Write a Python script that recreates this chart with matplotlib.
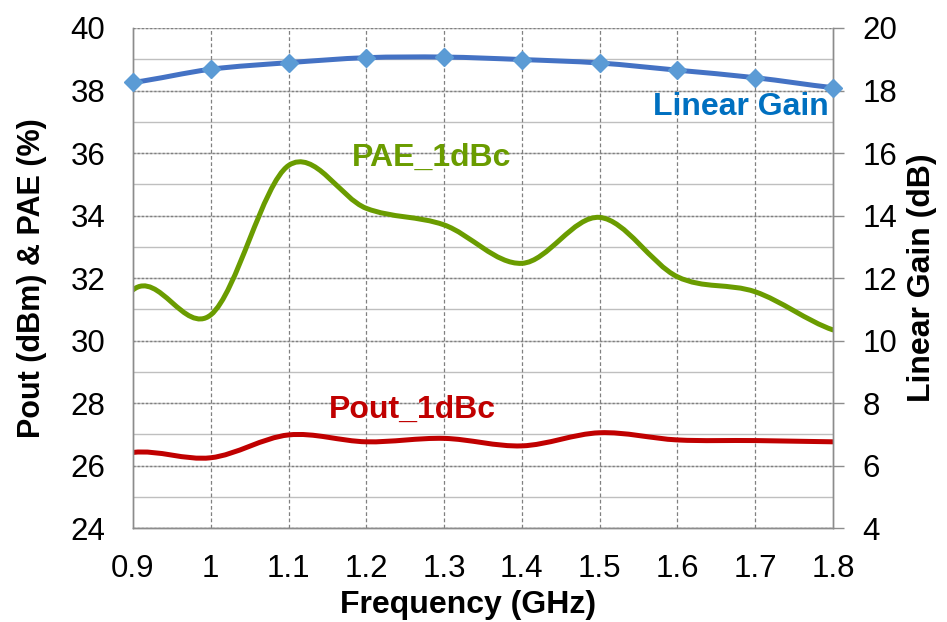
import numpy as np
import matplotlib
matplotlib.use("Agg")
import matplotlib.pyplot as plt
from matplotlib.path import Path
from matplotlib.patches import PathPatch

plt.rcParams['font.family'] = ['Liberation Sans', 'DejaVu Sans']

# data
freq = [0.9, 1.0, 1.1, 1.2, 1.3, 1.4, 1.5, 1.6, 1.7, 1.8]
pae = [31.62, 30.82, 35.60, 34.23, 33.70, 32.47, 33.94, 32.04, 31.56, 30.34]
pout = [26.42, 26.25, 26.98, 26.76, 26.87, 26.63, 27.05, 26.82, 26.80, 26.76]
gain = [18.26, 18.68, 18.89, 19.05, 19.07, 18.99, 18.88, 18.65, 18.41, 18.09]

xticks = [0.9, 1.0, 1.1, 1.2, 1.3, 1.4, 1.5, 1.6, 1.7, 1.8]
xticklabels = ['0.9', '1', '1.1', '1.2', '1.3', '1.4', '1.5', '1.6', '1.7', '1.8']


def smooth_patch(x, y, color, lw):
    # Excel style smoothed line: cubic bezier through the points
    pts = np.column_stack([x, y]).astype(float)
    tang = np.empty_like(pts)
    tang[1:-1] = (pts[2:] - pts[:-2]) / 2
    tang[0] = tang[1]
    tang[-1] = tang[-2]
    verts = [pts[0]]
    codes = [Path.MOVETO]
    for i in range(len(pts) - 1):
        verts += [pts[i] + tang[i] / 3, pts[i + 1] - tang[i + 1] / 3, pts[i + 1]]
        codes += [Path.CURVE4] * 3
    return PathPatch(Path(verts, codes), facecolor='none', edgecolor=color,
                     lw=lw, capstyle='round', joinstyle='round')


fig = plt.figure(figsize=(9.47, 6.22), dpi=100)
ax = fig.add_axes([0.1404, 0.151, 0.7392, 0.804])
ax2 = ax.twinx()

ax.set_xlim(0.9, 1.8)
ax.set_ylim(24, 40)
ax2.set_ylim(4, 20)

# grid
for v in np.arange(25, 40, 2):
    ax.axhline(v, color='#BFBFBF', lw=1.0, zorder=0)
for v in np.arange(24, 41, 2):
    ax.axhline(v, color='#BFBFBF', lw=1.0, zorder=0)
    ax.axhline(v, color='#7F7F7F', lw=1.0, ls=(0, (1.5, 1.5)), zorder=0)
for xv in xticks[1:-1]:
    ax.axvline(xv, color='#808080', lw=0.9, ls=(0, (3, 2)), zorder=0)

ax.add_patch(smooth_patch(freq, pae, '#6A9C00', 3.6))
ax.add_patch(smooth_patch(freq, pout, '#C00000', 3.6))
ax2.add_patch(smooth_patch(freq, gain, '#4472C4', 3.6))
ax2.plot(freq, gain, ls='none', marker='D', markersize=9.5, color='#5B9BD5',
         clip_on=False, zorder=5)

ax.set_xticks(xticks)
ax.set_xticklabels(xticklabels)
ax.set_yticks(np.arange(24, 41, 2))
ax2.set_yticks(np.arange(4, 21, 2))

for a in (ax, ax2):
    for s in a.spines.values():
        s.set_color('#8C8C8C')
        s.set_linewidth(1.0)
    a.spines['top'].set_visible(False)
ax.tick_params(axis='x', length=0, labelsize=22.5, pad=19)
ax.tick_params(axis='y', length=0, labelsize=22.5, pad=20)
ax2.tick_params(axis='y', length=8, width=1.0, color='#8C8C8C', labelsize=22.5, pad=13)

ax.set_xlabel('Frequency (GHz)', fontsize=23, fontweight='bold', labelpad=4)
ax.xaxis.label.set_x(0.479)
ax.set_ylabel('Pout (dBm) & PAE (%)', fontsize=22, fontweight='bold', labelpad=17)
ax2.set_ylabel('Linear Gain (dB)', fontsize=23, fontweight='bold', labelpad=7)

ax.text(1.795, 37.47, 'Linear Gain', color='#0070C0', fontsize=23,
        fontweight='bold', ha='right', va='center')
ax.text(1.284, 35.84, 'PAE_1dBc', color='#6A9C00', fontsize=23,
        fontweight='bold', ha='center', va='center')
ax.text(1.259, 27.78, 'Pout_1dBc', color='#C00000', fontsize=23,
        fontweight='bold', ha='center', va='center')

fig.savefig('out.png', dpi=100, facecolor='white')
